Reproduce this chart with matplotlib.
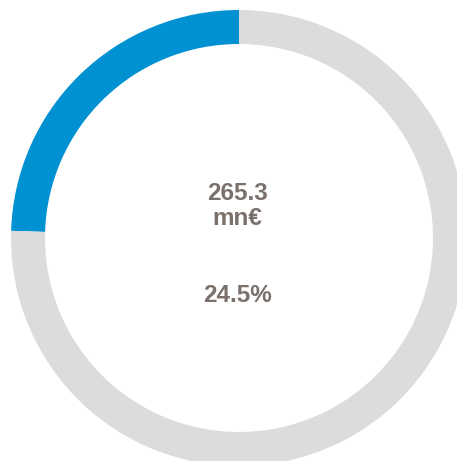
import matplotlib.pyplot as plt

# share of total
labels = ["share", "rest"]
values = [24.5, 75.5]
colors = ["#0091d2", "#dcdcdc"]
amount_text = "265.3\nmn€"
pct_text = "24.5%"

W, H = 457, 461
fig = plt.figure(figsize=(W / 100, H / 100), dpi=100)
ax = fig.add_axes([0, 0, 1, 1])

cx, cy = 239, H - 238
R = 228
ax.pie(values, colors=colors, startangle=90, counterclock=True,
       center=(cx, cy), radius=R, frame=True,
       wedgeprops=dict(width=34, linewidth=0))
ax.set_xlim(0, W)
ax.set_ylim(0, H)
ax.set_aspect("equal")
ax.axis("off")

txt = dict(ha="center", va="center", color="#7a716c", fontsize=17.5,
           fontweight="bold", family=["Liberation Sans", "DejaVu Sans"])
ax.text(cx - 2, H - 206, amount_text, linespacing=1.1, **txt)
ax.text(cx - 2, H - 295, pct_text, **txt)

fig.savefig("out.png", dpi=100)
